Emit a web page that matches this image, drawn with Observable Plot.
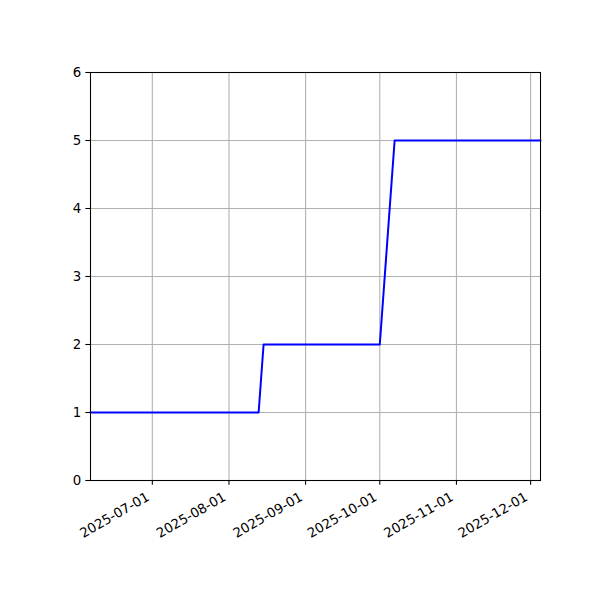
<!DOCTYPE html>
<html><head>
<meta charset="utf-8">
<script src="https://cdn.jsdelivr.net/npm/d3@7"></script>
<script src="https://cdn.jsdelivr.net/npm/@observablehq/plot@0.6"></script>
<style>body{margin:0;background:#fff} svg{font-family:"DejaVu Sans",sans-serif}</style>
</head><body><div id="chart"></div>
<script>
const dates = ["2025-06-06","2025-08-13","2025-08-15","2025-10-01","2025-10-07","2025-12-05"];
const values = [1, 1, 2, 2, 5, 5];
const xTickLabels = ["2025-07-01","2025-08-01","2025-09-01","2025-10-01","2025-11-01","2025-12-01"];
const yTicks = [0, 1, 2, 3, 4, 5, 6];

const parse = s => new Date(s + "T00:00:00Z");
const data = dates.map((d, i) => ({date: parse(d), value: values[i]}));
const xt = xTickLabels.map(parse);
const fmt = d3.utcFormat("%Y-%m-%d");

const plot = Plot.plot({
  width: 600, height: 600,
  marginLeft: 90, marginRight: 60, marginTop: 72, marginBottom: 120,
  style: {fontFamily: "DejaVu Sans", fontSize: "13.33px", background: "white", color: "black"},
  x: {type: "utc", domain: [data[0].date, data[data.length - 1].date]},
  y: {domain: [0, 6]},
  marks: [
    Plot.gridX(xt, {stroke: "#b0b0b0", strokeOpacity: 1, strokeWidth: 1.07}),
    Plot.gridY(yTicks, {stroke: "#b0b0b0", strokeOpacity: 1, strokeWidth: 1.07}),
    Plot.line(data, {x: "date", y: "value", stroke: "blue", strokeWidth: 2}),
    Plot.frame({stroke: "black", strokeWidth: 1.07}),
    Plot.axisX(xt, {tickSize: 4.67, tickFormat: () => "", label: null, stroke: "black", strokeWidth: 1.07}),
    Plot.text(xt, {x: d => d, frameAnchor: "bottom", text: d => fmt(d), rotate: -30,
      textAnchor: "end", lineAnchor: "bottom", dy: 19, dx: -2, fontSize: 13.33, fill: "black"}),
    Plot.axisY(yTicks, {tickSize: 4.67, tickPadding: 4.67, label: null, fontSize: 13.33, stroke: "black", strokeWidth: 1.07, tickFormat: d => String(d)})
  ]
});
document.getElementById("chart").appendChild(plot);
</script>
</body></html>
